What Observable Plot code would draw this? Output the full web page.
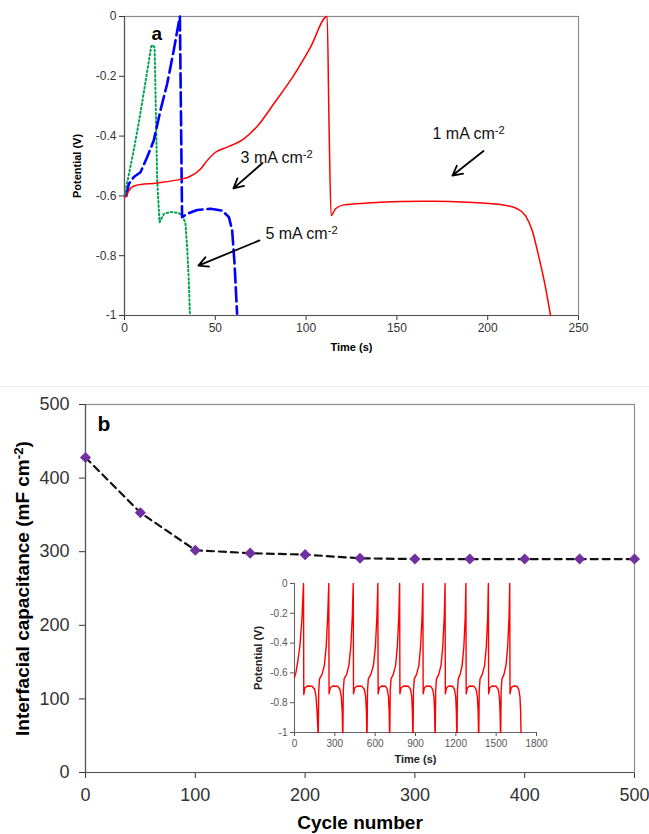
<!DOCTYPE html>
<html><head><meta charset="utf-8">
<script src="https://cdn.jsdelivr.net/npm/d3@7"></script>
<script src="https://cdn.jsdelivr.net/npm/@observablehq/plot@0.6"></script>
<style>
body{margin:0;background:#fff;}
#wrap{position:relative;width:649px;height:834px;font-family:"Liberation Sans",Arial,sans-serif;overflow:hidden;background:#fff}
#a{position:absolute;left:0;top:0}
#sep{position:absolute;left:0;top:386px;width:649px;height:0;border-top:1px solid #ebebeb}
#b{position:absolute;left:0;top:388px}
#inset{position:absolute;left:230px;top:570px}
</style></head>
<body>
<div id="wrap"><div id="a"></div><div id="sep"></div><div id="b"></div><div id="inset"></div></div>
<script>
// ---------- Panel a data (time in s, potential in V) ----------
const red1T = [0, 0.9, 2.4, 6, 18, 31.8, 35.4, 41.9, 45.5, 50.1, 56.5, 65.7, 73, 82.2, 93.2, 102.4, 111.6, 112.6, 113.8, 116.2, 120.8, 133.6, 152, 170.3, 188.7, 207, 216.2, 220.8, 224.5, 228.2, 231.8, 234.6];
const red1V = [-0.605, -0.6, -0.582, -0.565, -0.557, -0.543, -0.537, -0.51, -0.482, -0.454, -0.437, -0.409, -0.368, -0.292, -0.197, -0.103, 0, -0.35, -0.666, -0.643, -0.63, -0.624, -0.619, -0.618, -0.621, -0.629, -0.643, -0.666, -0.716, -0.805, -0.905, -1];
const blue3T = [1.0, 2.4, 5.1, 8.8, 12.5, 16.1, 19.8, 23.5, 27.1, 29.4, 30.5, 31.1, 31.7, 34.5, 40, 47.4, 53.8, 57.5, 59.3, 60.6, 62];
const blue3V = [-0.6, -0.56, -0.537, -0.521, -0.47, -0.415, -0.314, -0.225, -0.114, -0.036, 0, -0.33, -0.671, -0.66, -0.647, -0.643, -0.649, -0.671, -0.716, -0.827, -0.994];
const green5T = [0, 2, 5, 8, 11, 14.7, 15.6, 16.6, 18, 19.3, 21.7, 25.3, 29.9, 32.3, 33.6, 34.5, 35.4, 36];
const green5V = [-0.6, -0.54, -0.45, -0.35, -0.24, -0.1, -0.095, -0.105, -0.548, -0.688, -0.66, -0.654, -0.657, -0.671, -0.693, -0.772, -0.883, -0.994];
const timeTicksA = [0, 50, 100, 150, 200, 250];
const potTicks = [-1, -0.8, -0.6, -0.4, -0.2, 0];
// annotation labels and arrows (data coordinates)
const annLabel = ["3 mA cm-2", "5 mA cm-2", "1 mA cm-2"];
const annLabelT = [63.9, 77.6, 169.6];
const annLabelV = [-0.472, -0.726, -0.391];
const arrowT1 = [76, 74.3, 197.7];
const arrowV1 = [-0.49, -0.749, -0.45];
const arrowT2 = [60, 40.7, 180.6];
const arrowV2 = [-0.575, -0.833, -0.532];

// ---------- Panel b data ----------
const cycles = [0, 50, 100, 150, 200, 250, 300, 350, 400, 450, 500];
const capacitance = [428, 353, 302, 298, 296, 291, 290, 290, 290, 290, 290];
const cycleTicks = [0, 100, 200, 300, 400, 500];
const capTicks = [0, 100, 200, 300, 400, 500];

// ---------- Inset data (repeated cycling, time in s) ----------
const insetT = [
  0, 10, 25, 40, 55, 67, 69, 78, 95, 130, 150, 160, 168, 175,
  177, 180, 186, 205, 222, 236, 247, 255, 257, 266, 285, 320, 338, 348, 355, 358,
  360, 363, 369, 388, 405, 419, 430, 437, 439, 448, 467, 502, 519, 529, 535, 538,
  540, 543, 549, 568, 587, 602, 613, 620, 622, 631, 648, 678, 690, 699, 704, 707,
  709, 712, 718, 735, 752, 765, 776, 782, 784, 793, 812, 848, 863, 872, 877, 880,
  882, 885, 891, 908, 925, 938, 949, 955, 957, 966, 983, 1013, 1028, 1037, 1042, 1045,
  1047, 1050, 1056, 1073, 1090, 1103, 1114, 1120, 1122, 1131, 1148, 1176, 1190, 1199, 1204, 1207,
  1209, 1212, 1218, 1232, 1247, 1260, 1270, 1275, 1277, 1286, 1303, 1336, 1351, 1360, 1366, 1369,
  1371, 1374, 1380, 1397, 1414, 1427, 1437, 1442, 1444, 1453, 1470, 1500, 1515, 1524, 1529, 1532,
  1534, 1537, 1543, 1558, 1573, 1586, 1596, 1601, 1603, 1612, 1629, 1655, 1668, 1677, 1682, 1685
];
const insetV = [
  -0.63, -0.6, -0.52, -0.42, -0.24, 0, -0.745, -0.7, -0.688, -0.69, -0.71, -0.76, -0.86, -1,
  -1, -0.72, -0.64, -0.61, -0.55, -0.42, -0.22, 0, -0.74, -0.7, -0.688, -0.69, -0.71, -0.76, -0.86, -1,
  -1, -0.72, -0.64, -0.61, -0.55, -0.42, -0.22, 0, -0.74, -0.7, -0.688, -0.69, -0.71, -0.76, -0.86, -1,
  -1, -0.72, -0.64, -0.61, -0.55, -0.42, -0.22, 0, -0.74, -0.7, -0.688, -0.69, -0.71, -0.76, -0.86, -1,
  -1, -0.72, -0.64, -0.61, -0.55, -0.42, -0.22, 0, -0.74, -0.7, -0.688, -0.69, -0.71, -0.76, -0.86, -1,
  -1, -0.72, -0.64, -0.61, -0.55, -0.42, -0.22, 0, -0.74, -0.7, -0.688, -0.69, -0.71, -0.76, -0.86, -1,
  -1, -0.72, -0.64, -0.61, -0.55, -0.42, -0.22, 0, -0.74, -0.7, -0.688, -0.69, -0.71, -0.76, -0.86, -1,
  -1, -0.72, -0.64, -0.61, -0.55, -0.42, -0.22, 0, -0.74, -0.7, -0.688, -0.69, -0.71, -0.76, -0.86, -1,
  -1, -0.72, -0.64, -0.61, -0.55, -0.42, -0.22, 0, -0.74, -0.7, -0.688, -0.69, -0.71, -0.76, -0.86, -1,
  -1, -0.72, -0.64, -0.61, -0.55, -0.42, -0.22, 0, -0.74, -0.7, -0.688, -0.69, -0.71, -0.76, -0.86, -1
];
const insetTimeTicks = [0, 300, 600, 900, 1200, 1500, 1800];

// ---------- helpers ----------
const zip = (T, V) => T.map((t, i) => ({t, v: V[i]}));
const FONT = "Liberation Sans, Arial, Helvetica, sans-serif";
function supify(svg) {
  d3.select(svg).selectAll("text").each(function () {
    if (this.querySelector("tspan")) return;
    const s = this.textContent;
    const i = s.indexOf("cm-2");
    if (i < 0) return;
    const before = s.slice(0, i + 2), after = s.slice(i + 4);
    const el = d3.select(this);
    el.text(before);
    el.append("tspan").attr("dy", "-0.45em").attr("font-size", "0.7em").text("-2");
    if (after) el.append("tspan").attr("dy", "0.315em").text(after);
  });
}

// ---------- Panel a ----------
const annData = annLabel.map((s, i) => ({s, t: annLabelT[i], v: annLabelV[i]}));
const arrData = arrowT1.map((t, i) => ({t1: t, v1: arrowV1[i], t2: arrowT2[i], v2: arrowV2[i]}));
const pa = Plot.plot({
  width: 649, height: 385,
  marginLeft: 124, marginRight: 71, marginTop: 16, marginBottom: 70,
  style: {fontFamily: FONT, fontSize: "12px", color: "#333", background: "transparent", overflow: "visible"},
  x: {domain: [0, 250], ticks: timeTicksA, tickFormat: d => String(d), tickSize: 5, tickPadding: 3, label: null},
  y: {domain: [-1, 0], ticks: potTicks, tickFormat: d => String(d), tickSize: 5, tickPadding: 3, label: null},
  marks: [
    Plot.frame({stroke: "#8c8c8c", strokeWidth: 1.2}),
    Plot.ruleX([0], {stroke: "#555", strokeWidth: 1.2}),
    Plot.ruleY([-1], {stroke: "#555", strokeWidth: 1.2}),
    Plot.line(zip(green5T, green5V), {x: "t", y: "v", stroke: "#00a650", strokeWidth: 2, strokeDasharray: "1.6,2.6"}),
    Plot.line(zip(blue3T, blue3V), {x: "t", y: "v", stroke: "#0000ff", strokeWidth: 2.6, strokeDasharray: "14,5"}),
    Plot.line(zip(red1T, red1V), {x: "t", y: "v", stroke: "#ff0000", strokeWidth: 1.5, curve: "monotone-x"}),
    Plot.arrow(arrData, {x1: "t1", y1: "v1", x2: "t2", y2: "v2", stroke: "#000", strokeWidth: 1.8, headLength: 9, headAngle: 55}),
    Plot.text(annData, {x: "t", y: "v", text: "s", textAnchor: "start", fontSize: 16, fill: "#111"}),
    Plot.text(["a"], {frameAnchor: "top-left", dx: 27, dy: 17, textAnchor: "start", lineAnchor: "middle", fontSize: 19, fontWeight: "bold", fill: "#000"}),
    Plot.text(["Potential (V)"], {frameAnchor: "left", dx: -47, rotate: -90, textAnchor: "middle", lineAnchor: "middle", fontSize: 11, fontWeight: "bold", fill: "#000"}),
    Plot.text(["Time (s)"], {frameAnchor: "bottom", dy: 32, textAnchor: "middle", lineAnchor: "middle", fontSize: 11, fontWeight: "bold", fill: "#000"})
  ]
});
supify(pa);
document.getElementById("a").append(pa);

// ---------- Panel b ----------
const capData = zip(cycles, capacitance);
const pb = Plot.plot({
  width: 649, height: 446,
  marginLeft: 85, marginRight: 15, marginTop: 16, marginBottom: 62,
  style: {fontFamily: FONT, fontSize: "18px", color: "#333", background: "transparent", overflow: "visible"},
  x: {domain: [0, 500], ticks: cycleTicks, tickFormat: d => String(d), tickSize: 6, tickPadding: 10, label: null},
  y: {domain: [0, 500], ticks: capTicks, tickFormat: d => String(d), tickSize: 6, tickPadding: 10, label: null},
  marks: [
    Plot.frame({stroke: "#8c8c8c", strokeWidth: 1.2}),
    Plot.ruleX([0], {stroke: "#555", strokeWidth: 1.2}),
    Plot.ruleY([0], {stroke: "#555", strokeWidth: 1.2}),
    Plot.line(capData, {x: "t", y: "v", stroke: "#111", strokeWidth: 2.2, strokeDasharray: "7,5"}),
    Plot.dot(capData, {x: "t", y: "v", symbol: "diamond2", r: 5, fill: "#7030a0", stroke: "none"}),
    Plot.text(["b"], {frameAnchor: "top-left", dx: 12, dy: 20, textAnchor: "start", lineAnchor: "middle", fontSize: 21, fontWeight: "bold", fill: "#000"}),
    Plot.text(["Interfacial capacitance (mF cm-2)"], {frameAnchor: "left", dx: -63, rotate: -90, textAnchor: "middle", lineAnchor: "middle", fontSize: 19, fontWeight: "bold", fill: "#000"}),
    Plot.text(["Cycle number"], {frameAnchor: "bottom", dy: 50, textAnchor: "middle", lineAnchor: "middle", fontSize: 19, fontWeight: "bold", fill: "#000"})
  ]
});
supify(pb);
document.getElementById("b").append(pb);

// ---------- Inset ----------
const pi = Plot.plot({
  width: 320, height: 200,
  marginLeft: 64, marginRight: 14, marginTop: 13, marginBottom: 38,
  style: {fontFamily: FONT, fontSize: "10px", color: "#555", background: "transparent", overflow: "visible"},
  x: {domain: [0, 1800], ticks: insetTimeTicks, tickFormat: d => String(d), tickSize: 4, tickPadding: 3, label: null},
  y: {domain: [-1, 0], ticks: potTicks, tickFormat: d => String(d), tickSize: 4, tickPadding: 3, label: null},
  marks: [
    Plot.ruleX([0], {stroke: "#666", strokeWidth: 1.1}),
    Plot.ruleY([-1], {stroke: "#666", strokeWidth: 1.1}),
    Plot.line(zip(insetT, insetV), {x: "t", y: "v", stroke: "#ff0000", strokeWidth: 1.4}),
    Plot.text(["Potential (V)"], {frameAnchor: "left", dx: -36, rotate: -90, textAnchor: "middle", lineAnchor: "middle", fontSize: 11, fontWeight: "bold", fill: "#222"}),
    Plot.text(["Time (s)"], {frameAnchor: "bottom", dy: 27, textAnchor: "middle", lineAnchor: "middle", fontSize: 11, fontWeight: "bold", fill: "#222"})
  ]
});
document.getElementById("inset").append(pi);
</script>
</body></html>
